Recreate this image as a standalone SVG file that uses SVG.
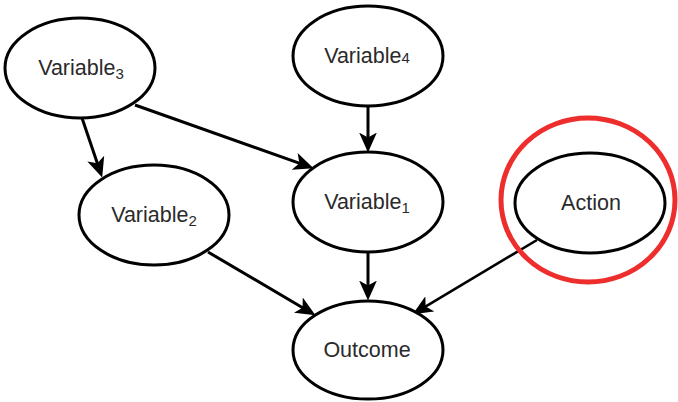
<svg xmlns="http://www.w3.org/2000/svg" width="678" height="402" viewBox="0 0 678 402">
<style>
.node ellipse{fill:#fff;stroke:#000;stroke-width:3}
.node text{font-family:"Liberation Sans",Arial,sans-serif;font-size:21.5px;fill:#2a2a2a;text-anchor:middle}
.sub{font-size:15px}
.edge{stroke:#000;stroke-width:3;fill:none;marker-end:url(#arr)}
.hl{fill:none;stroke:#ee2d2d;stroke-width:5}
</style>
<defs>
<marker id="arr" markerUnits="userSpaceOnUse" markerWidth="20" markerHeight="18" viewBox="0 0 18 16" refX="13" refY="8" orient="auto">
<path d="M0,0 L18,8 L0,16 L4.5,8 z" fill="#000"/>
</marker>
</defs>
<rect width="678" height="402" fill="#fff"/>
<g id="connectors">
<line class="edge" x1="82" y1="118" x2="100.4" y2="172.3"/>
<line class="edge" x1="135" y1="105" x2="308.3" y2="166.3"/>
<line class="edge" x1="368" y1="106" x2="368" y2="147"/>
<line class="edge" x1="208" y1="252" x2="310.7" y2="312.5"/>
<line class="edge" x1="368" y1="252" x2="368" y2="295"/>
<line class="edge" x1="537" y1="240" x2="417.5" y2="311.3" style="stroke-width:2.6"/>
</g>
<g id="variable3" class="node">
<ellipse cx="80" cy="68" rx="75" ry="50"/>
<text x="81" y="75">Variable<tspan class="sub" dy="4">3</tspan></text>
</g>
<g id="variable4" class="node">
<ellipse cx="368" cy="56" rx="75" ry="50"/>
<text x="367" y="63">Variable<tspan class="sub">4</tspan></text>
</g>
<g id="variable2" class="node">
<ellipse cx="154" cy="215" rx="75" ry="50"/>
<text x="154" y="222">Variable<tspan class="sub" dy="4">2</tspan></text>
</g>
<g id="variable1" class="node">
<ellipse cx="368" cy="202" rx="75" ry="50"/>
<text x="367" y="209">Variable<tspan class="sub" dy="4">1</tspan></text>
</g>
<g id="action" class="node">
<ellipse cx="590" cy="203" rx="75" ry="50"/>
<text x="591" y="210">Action</text>
</g>
<g id="outcome" class="node">
<ellipse cx="368" cy="350" rx="75" ry="49"/>
<text x="367" y="357">Outcome</text>
</g>
<g id="highlight">
<ellipse class="hl" cx="588" cy="200" rx="87" ry="82"/>
</g>
</svg>
